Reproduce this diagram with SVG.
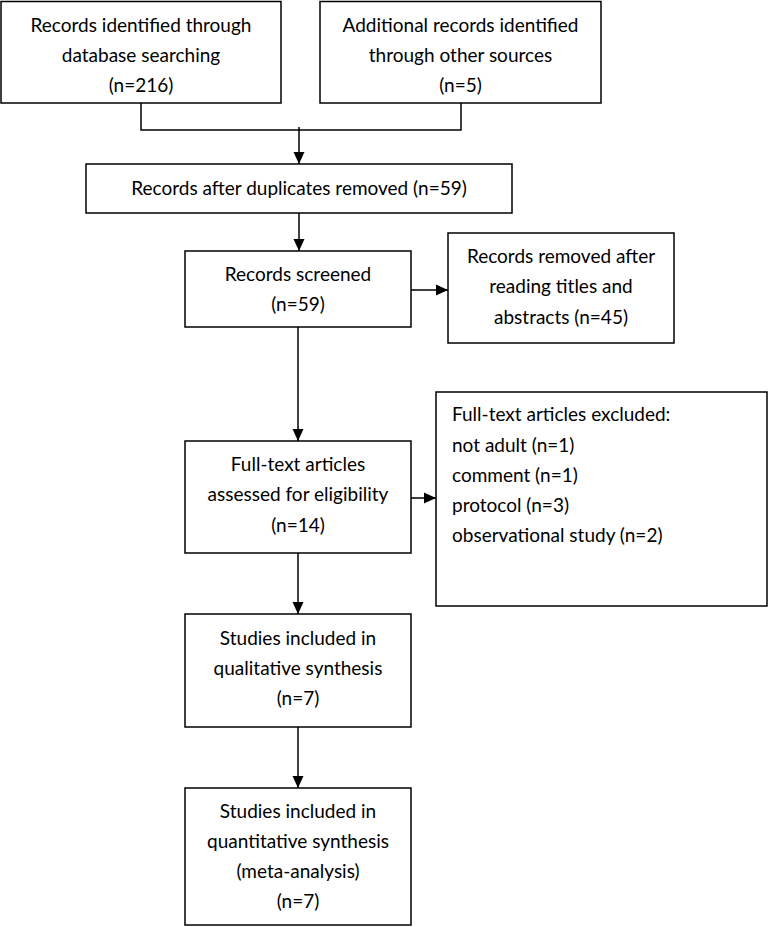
<svg xmlns="http://www.w3.org/2000/svg" width="768" height="927" viewBox="0 0 768 927">
  <style>
    .box { fill: #ffffff; stroke: #000000; stroke-width: 1.5; }
    .lbl { font-family: Lato, "Liberation Sans", sans-serif; font-size: 19px; fill: #000000; }
    .c { text-anchor: middle; }
    .conn { fill: none; stroke: #000000; stroke-width: 1.5; }
  </style>
  <defs>
    <marker id="arrow" markerUnits="userSpaceOnUse" markerWidth="12" markerHeight="12" viewBox="0 0 12 12" refX="12" refY="6" orient="auto">
      <path d="M0,0.5 L12,6 L0,11.5 Z" fill="#000000"/>
    </marker>
  </defs>
  <rect width="768" height="927" fill="#ffffff"/>

  <g id="connectors">
    <polyline class="conn" points="141,103 141,130 461,130 461,103"/>
    <line class="conn" x1="299" y1="127" x2="299" y2="164" marker-end="url(#arrow)"/>
    <line class="conn" x1="299" y1="213" x2="299" y2="251" marker-end="url(#arrow)"/>
    <line class="conn" x1="411" y1="290" x2="448" y2="290" marker-end="url(#arrow)"/>
    <line class="conn" x1="298" y1="327" x2="298" y2="441" marker-end="url(#arrow)"/>
    <line class="conn" x1="411" y1="498" x2="436" y2="498" marker-end="url(#arrow)"/>
    <line class="conn" x1="298" y1="553" x2="298" y2="614" marker-end="url(#arrow)"/>
    <line class="conn" x1="298" y1="727" x2="298" y2="788" marker-end="url(#arrow)"/>
  </g>

  <g id="db-records">
    <rect class="box" x="1" y="1.5" width="280" height="101.5"/>
    <text class="lbl c" x="141" y="32">Records identified through</text>
    <text class="lbl c" x="141" y="62">database searching</text>
    <text class="lbl c" x="141" y="92">(n=216)</text>
  </g>

  <g id="other-records">
    <rect class="box" x="320" y="1.5" width="281" height="101.5"/>
    <text class="lbl c" x="460.5" y="32">Additional records identified</text>
    <text class="lbl c" x="460.5" y="62">through other sources</text>
    <text class="lbl c" x="460.5" y="92">(n=5)</text>
  </g>

  <g id="deduplicated">
    <rect class="box" x="86" y="164" width="426" height="49"/>
    <text class="lbl c" x="299" y="195">Records after duplicates removed (n=59)</text>
  </g>

  <g id="screened">
    <rect class="box" x="185" y="251" width="226" height="76"/>
    <text class="lbl c" x="298" y="281">Records screened</text>
    <text class="lbl c" x="298" y="311">(n=59)</text>
  </g>

  <g id="removed">
    <rect class="box" x="448" y="233" width="226" height="110"/>
    <text class="lbl c" x="561" y="263">Records removed after</text>
    <text class="lbl c" x="561" y="293">reading titles and</text>
    <text class="lbl c" x="561" y="324">abstracts (n=45)</text>
  </g>

  <g id="fulltext">
    <rect class="box" x="185" y="441" width="226" height="112"/>
    <text class="lbl c" x="298" y="471">Full-text articles</text>
    <text class="lbl c" x="298" y="501">assessed for eligibility</text>
    <text class="lbl c" x="298" y="532">(n=14)</text>
  </g>

  <g id="excluded">
    <rect class="box" x="436" y="392" width="331" height="214"/>
    <text class="lbl" x="452" y="421">Full-text articles excluded:</text>
    <text class="lbl" x="452" y="452">not adult (n=1)</text>
    <text class="lbl" x="452" y="482">comment (n=1)</text>
    <text class="lbl" x="452" y="512">protocol (n=3)</text>
    <text class="lbl" x="452" y="542">observational study (n=2)</text>
  </g>

  <g id="qualitative">
    <rect class="box" x="185" y="614" width="226" height="113"/>
    <text class="lbl c" x="298" y="645">Studies included in</text>
    <text class="lbl c" x="298" y="675">qualitative synthesis</text>
    <text class="lbl c" x="298" y="705">(n=7)</text>
  </g>

  <g id="quantitative">
    <rect class="box" x="185" y="788" width="226" height="137"/>
    <text class="lbl c" x="298" y="818">Studies included in</text>
    <text class="lbl c" x="298" y="848">quantitative synthesis</text>
    <text class="lbl c" x="298" y="878">(meta-analysis)</text>
    <text class="lbl c" x="298" y="908">(n=7)</text>
  </g>
</svg>
